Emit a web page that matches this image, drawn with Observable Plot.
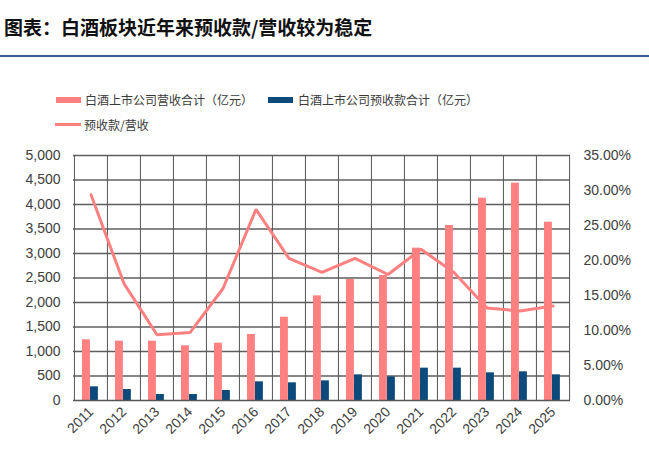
<!DOCTYPE html>
<html>
<head>
<meta charset="utf-8">
<script src="https://cdn.jsdelivr.net/npm/d3@7"></script>
<script src="https://cdn.jsdelivr.net/npm/@observablehq/plot@0.6"></script>
<style>
  body { margin: 0; background: #fff; width: 649px; height: 454px; position: relative; overflow: hidden;
         font-family: "Noto Sans CJK SC", "Liberation Sans", sans-serif; }
  #title { position: absolute; left: 4px; top: 14px; font-size: 19px; font-weight: bold; color: #111; line-height: 26px; white-space: nowrap; }
  #rule { position: absolute; left: 0; top: 55px; width: 649px; height: 2px; background: #3a5f94; box-shadow: 0 0 1px #8aa3c8; }
  .lg { position: absolute; font-size: 12px; color: #3a3a3a; line-height: 16px; white-space: nowrap; }
  .sw { position: absolute; }
  #chart { position: absolute; left: 0; top: 140px; }
</style>
</head>
<body>
<div id="title">图表：白酒板块近年来预收款/营收较为稳定</div>
<div id="rule"></div>
<div class="sw" style="left:56px;top:97px;width:25px;height:6px;background:#ff8080"></div>
<div class="lg" style="left:85px;top:92px">白酒上市公司营收合计（亿元）</div>
<div class="sw" style="left:268px;top:97px;width:25px;height:6px;background:#0b4a7a"></div>
<div class="lg" style="left:298px;top:92px">白酒上市公司预收款合计（亿元）</div>
<div class="sw" style="left:55px;top:123px;width:26px;height:3px;background:#ff8080"></div>
<div class="lg" style="left:84px;top:117px">预收款/营收</div>
<div id="chart"></div>
<script>
const years = ["2011","2012","2013","2014","2015","2016","2017","2018","2019","2020","2021","2022","2023","2024","2025"];
const revenue = [1239, 1211, 1210, 1116, 1170, 1347, 1700, 2136, 2469, 2551, 3109, 3571, 4129, 4435, 3639];
const advances = [279, 224, 122, 122, 204, 381, 361, 401, 524, 483, 660, 660, 565, 585, 524];
const ratio = [29.4, 16.7, 9.4, 9.7, 16.0, 27.3, 20.3, 18.3, 20.3, 18.0, 21.6, 18.3, 13.2, 12.8, 13.5];
const leftTicks = [0, 500, 1000, 1500, 2000, 2500, 3000, 3500, 4000, 4500, 5000];
const rightTicks = [0, 5, 10, 15, 20, 25, 30, 35];

const LEFT_MAX = 5000, RIGHT_MAX = 35;
const toLeft = p => p / RIGHT_MAX * LEFT_MAX;

const data = years.map((y, i) => ({year: y, revenue: revenue[i], advances: advances[i], ratio: toLeft(ratio[i])}));

const W = 649, H = 314, mL = 73, mR = 79, mT = 15, mB = 54;
const bw = (W - mL - mR) / years.length;

const chart = Plot.plot({
  width: W, height: H,
  marginLeft: mL, marginRight: mR, marginTop: mT, marginBottom: mB,
  style: {fontFamily: "'Liberation Sans', Arial, sans-serif", fontSize: "14px", color: "#404040", background: "transparent"},
  x: {type: "band", domain: years, padding: 0},
  y: {domain: [0, LEFT_MAX]},
  marks: [
    Plot.ruleY(leftTicks.filter(d => d > 0), {stroke: "#5e5e5e", strokeWidth: 1.3}),
    Plot.barY(data, {x: "year", y: "revenue", fill: "#ff8080", insetLeft: 8, insetRight: bw - 16}),
    Plot.barY(data, {x: "year", y: "advances", fill: "#0b4a7a", insetLeft: 16, insetRight: bw - 24}),
    Plot.ruleY([0], {stroke: "#555", strokeWidth: 1.3}),
    // category boundary ticks
    Plot.tickX(years, {x: d => d, dx: -bw / 2, y1: 0, y2: -90, stroke: "#555"}),
    Plot.tickX([years[years.length - 1]], {x: d => d, dx: bw / 2, y1: 0, y2: -90, stroke: "#555"}),
    Plot.line(data, {x: "year", y: "ratio", stroke: "#ff8080", strokeWidth: 3, strokeLinejoin: "miter"}),
    Plot.axisY({anchor: "left", ticks: leftTicks, tickSize: 0, tickPadding: 13, tickFormat: d3.format(","), label: null}),
    Plot.axisY({anchor: "right", ticks: rightTicks.map(toLeft), tickSize: 0, tickPadding: 13,
                tickFormat: d => (d / LEFT_MAX * RIGHT_MAX).toFixed(2) + "%", label: null}),
    Plot.axisX({tickSize: 0, tickRotate: -45, tickPadding: 9, label: null})
  ]
});
document.getElementById("chart").appendChild(chart);
</script>
</body>
</html>
